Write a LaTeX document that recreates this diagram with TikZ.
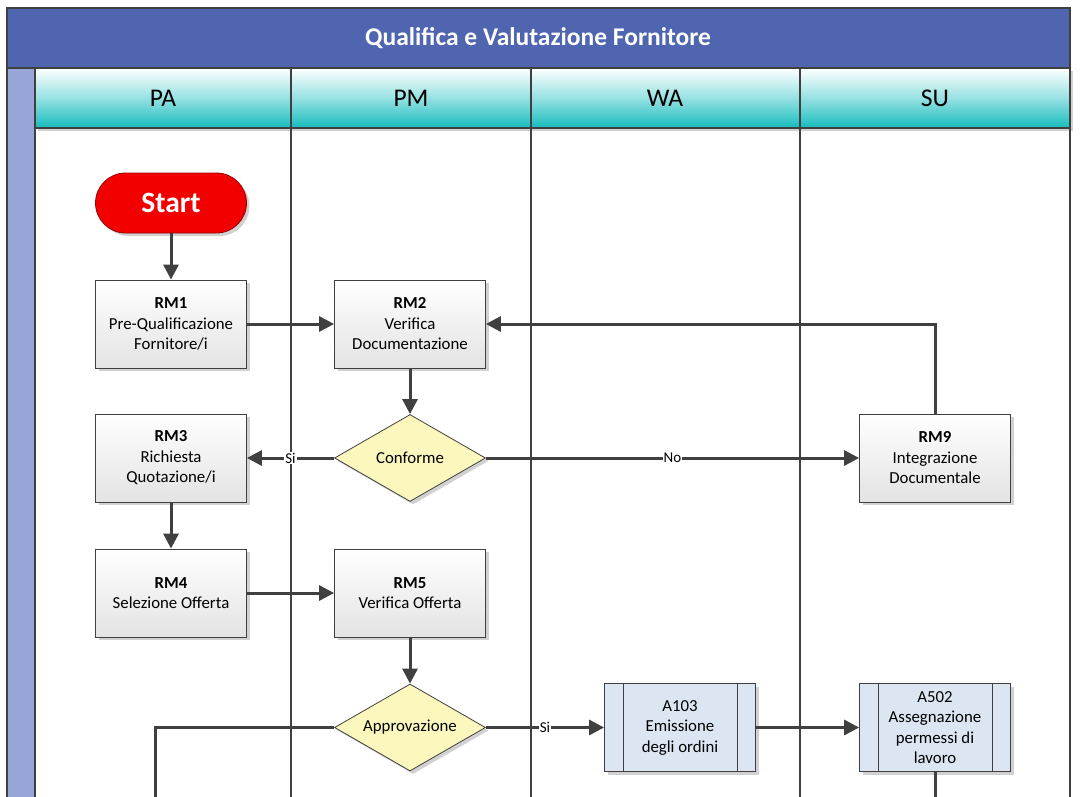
\documentclass[tikz,border=0pt]{standalone}
\usepackage{fontspec}
\setmainfont{Carlito}
\usetikzlibrary{arrows.meta}
\usetikzlibrary{shapes.geometric}
\usetikzlibrary{shadows}
\definecolor{titleblue}{HTML}{4F65B0}
\definecolor{stripblue}{HTML}{97A6D6}
\definecolor{laneteal}{HTML}{16BCBE}
\definecolor{linegray}{HTML}{404040}
\definecolor{decyellow}{HTML}{FBF7BD}
\definecolor{subblue}{HTML}{DCE6F2}
\definecolor{startred}{HTML}{F20000}
\tikzset{shade/.style = {drop shadow={shadow xshift=3pt, shadow yshift=-3pt,
                                      fill=black, opacity=0.18}}}
\tikzset{task/.style = {draw=linegray, line width=0.8pt, top color=white, bottom color=gray!22,
                        minimum width=151pt, minimum height=88pt, align=center,
                        font=\fontsize{16.8}{20.5}\selectfont, shade}}
\tikzset{subproc/.style = {task, fill=subblue, top color=subblue, bottom color=subblue}}
\tikzset{decision/.style = {draw=linegray, line width=0.8pt, diamond, fill=decyellow,
                            minimum width=151pt, minimum height=87pt, inner sep=0pt,
                            font=\fontsize{16.8}{20}\selectfont, shade}}
\tikzset{flow/.style = {draw=linegray, line width=3pt, -{Triangle[length=15pt, width=15pt]}}}
\tikzset{link/.style = {draw=linegray, line width=3pt}}
\tikzset{lane/.style = {draw=linegray, line width=2pt}}
\tikzset{answer/.style = {fill=white, inner sep=1pt, font=\fontsize{15}{17}\selectfont}}
\tikzset{lanehead/.style = {font=\fontsize{25.5}{28}\selectfont}}

\begin{document}
\begin{tikzpicture}[x=1pt, y=-1pt]
      \useasboundingbox [fill=white] (0, 0) rectangle (1081, 797);
      % pool and lanes
      \fill [titleblue] (7, 8) rectangle (1070, 68);
      \fill [stripblue] (7, 68) rectangle (35, 810);
      \shade [top color=white, bottom color=laneteal, middle color=laneteal!45] (35, 68) rectangle (1070, 128);
      \node (title) at (538, 38) [text=white, font=\fontsize{25.5}{28}\selectfont\bfseries] {Qualifica e Valutazione Fornitore};
      \node (pa) at (163, 98) [lanehead] {PA};
      \node (pm) at (411, 98) [lanehead] {PM};
      \node (wa) at (665, 98) [lanehead] {WA};
      \node (su) at (935, 98) [lanehead] {SU};
      \draw [lane] (7, 810) -- (7, 8) -- (1070, 8) -- (1070, 810);
      \draw [lane] (7, 68) -- (1070, 68);
      \draw [lane] (35, 128) -- (1070, 128);
      \draw [lane] (35, 68) -- (35, 810);
      \foreach \xlane in {291, 531, 800}
        \draw [lane] (\xlane, 68) -- (\xlane, 810);
      % steps
      \node (start) at (171, 203) [draw=red!60!black, line width=0.8pt, fill=startred,
            rounded corners=30pt, minimum width=151pt, minimum height=60pt, shade,
            text=white, font=\fontsize{29.5}{31}\selectfont\bfseries] {Start};
      \node (rm1) at (171, 324) [task] {\textbf{RM1}\\Pre-Qualificazione\\Fornitore/i};
      \node (rm2) at (410, 324) [task] {\textbf{RM2}\\Verifica\\Documentazione};
      \node (conf) at (410, 458) [decision] {\makebox[0pt]{Conforme}};
      \node (rm3) at (171, 458) [task] {\textbf{RM3}\\Richiesta\\Quotazione/i};
      \node (rm9) at (935, 458) [task] {\textbf{RM9}\\Integrazione\\Documentale};
      \node (rm4) at (171, 593) [task] {\textbf{RM4}\\Selezione Offerta};
      \node (rm5) at (410, 593) [task] {\textbf{RM5}\\Verifica Offerta};
      \node (appr) at (410, 727.5) [decision] {\makebox[0pt]{Approvazione}};
      \node (a103) at (680, 727.5) [subproc] {A103\\Emissione\\degli ordini};
      \node (a502) at (935, 727.5) [subproc] {A502\\Assegnazione\\permessi di\\lavoro};
      \foreach \sub in {a103, a502} {
        \draw [linegray, line width=0.8pt] ([xshift=19pt]\sub.north west) -- ([xshift=19pt]\sub.south west);
        \draw [linegray, line width=0.8pt] ([xshift=-19pt]\sub.north east) -- ([xshift=-19pt]\sub.south east);
      }
      \coordinate (out1) at (155, 810);
      \coordinate (out2) at (935, 810);
      % connectors
      \draw [flow] (start) -- (rm1);
      \draw [flow] (rm1) -- (rm2);
      \draw [flow] (rm2) -- (conf);
      \draw [flow] (conf) -- node [answer] {Si} (rm3);
      \draw [flow] (conf) -- node [answer] {No} (rm9);
      \draw [flow] (rm9.north) |- (rm2.east);
      \draw [flow] (rm3) -- (rm4);
      \draw [flow] (rm4) -- (rm5);
      \draw [flow] (rm5) -- (appr);
      \draw [flow] (appr) -- node [answer] {Si} (a103);
      \draw [link] (appr.west) -| (out1);
      \draw [flow] (a103) -- (a502);
      \draw [link] (a502.south) -- (out2);
    \end{tikzpicture}
\end{document}
